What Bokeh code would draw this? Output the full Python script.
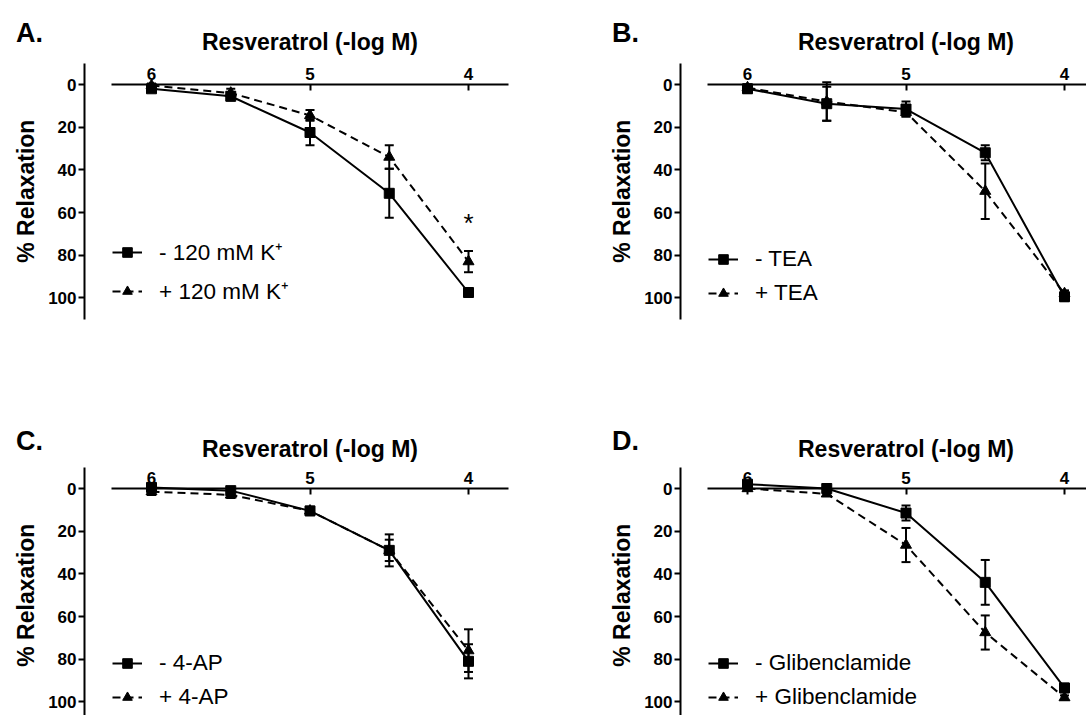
import math
from bokeh.plotting import figure
from bokeh.models import (Range1d, FixedTicker, Whisker, ColumnDataSource, Legend,
                          LegendItem, TeeHead, LinearAxis)
from bokeh.core.properties import value
from bokeh.layouts import column, row
from bokeh.embed import file_html
from bokeh.resources import INLINE

# ---------------- data ----------------
log_conc = [6, 5.5, 5, 4.5, 4]          # Resveratrol (-log M)
x_ticks = [6, 5, 4]
y_ticks = [0, 20, 40, 60, 80, 100]

a_labels = ["- 120 mM K\u207a", "+ 120 mM K\u207a"]
a_ctrl = [2, 5.5, 22.5, 51, 97.5]
a_ctrl_err = [1.5, 2, 6, 11.5, 2]
a_trt = [0.5, 4, 14.5, 34, 83]
a_trt_err = [1, 2, 2.5, 5.5, 5]

b_labels = ["- TEA", "+ TEA"]
b_ctrl = [2, 9, 11.5, 32, 99.5]
b_ctrl_err = [2, 8, 3.5, 3.5, 2]
b_trt = [1.5, 8, 13, 50, 98]
b_trt_err = [1, 9, 2, 13, 1.5]

c_labels = ["- 4-AP", "+ 4-AP"]
c_ctrl = [-0.5, 1, 10.5, 29, 81]
c_ctrl_err = [2, 1.5, 2, 7.5, 8]
c_trt = [1.5, 3, 10.5, 29, 76]
c_trt_err = [1.5, 1.5, 1.5, 5, 10]

d_labels = ["- Glibenclamide", "+ Glibenclamide"]
d_ctrl = [-2, 0, 11.5, 44, 93.5]
d_ctrl_err = [1, 1, 3.5, 10.5, 2]
d_trt = [0, 2.5, 26.5, 67.5, 98]
d_trt_err = [1, 1, 8, 8, 1]

panel_letters = ["A.", "B.", "C.", "D."]
x_title = "Resveratrol (-log M)"
y_title = "% Relaxation"
star_text = "*"

# ---------------- styling / geometry ----------------
FONT = "Liberation Sans"
PX_X = 158.5              # pixels per log unit
PX_Y = 256 / 120.0        # pixels per % unit
X_BOUNDS = (3.75, 6.25)
Y_BOUNDS = (-10, 110)
Y_AXIS_GAP = 67           # px between y axis line and x = 6


def px2x(six_px, px):
    """page pixel -> data x for a panel whose x=6 sits at page pixel six_px"""
    return 6 - (px - six_px) / PX_X


def make_panel(letter, labels, ctrl, ctrl_err, trt, trt_err, ox, oy, W, H,
               six_px, zero_py, letter_dy, xtitle_dy, star=None):
    x_start = 6 + (six_px - ox) / PX_X
    x_end = x_start - W / PX_X
    y_start = -(zero_py - oy) / PX_Y
    y_end = y_start + H / PX_Y
    p = figure(width=W, height=H, output_backend="svg", toolbar_location=None,
               x_range=Range1d(x_start, x_end), y_range=Range1d(y_end, y_start),
               x_axis_location=None, y_axis_location=None,
               min_border_left=0, min_border_top=0, min_border_right=0,
               min_border_bottom=0)
    p.outline_line_color = None
    p.xgrid.grid_line_color = None
    p.ygrid.grid_line_color = None
    p.background_fill_color = "white"
    p.border_fill_color = "white"

    y_axis_x = 6 + Y_AXIS_GAP / PX_X

    xa = LinearAxis(fixed_location=0, bounds=(max(X_BOUNDS[0], x_end), X_BOUNDS[1]),
                    ticker=FixedTicker(ticks=x_ticks))
    ya = LinearAxis(fixed_location=y_axis_x,
                    bounds=(Y_BOUNDS[0], min(Y_BOUNDS[1], y_end)),
                    ticker=FixedTicker(ticks=y_ticks))
    for ax in (xa, ya):
        ax.major_label_text_font = FONT
        ax.major_label_text_font_style = "bold"
        ax.major_label_text_font_size = "17px"
        ax.major_label_text_color = "black"
        ax.minor_tick_line_color = None
        ax.axis_line_color = "black"
        ax.major_tick_line_color = "black"
        ax.axis_line_width = 2
        ax.major_tick_line_width = 2
    xa.major_label_standoff = 5
    xa.major_tick_in = 6
    xa.major_tick_out = 0
    ya.major_label_standoff = 2
    ya.major_tick_in = 0
    ya.major_tick_out = 6
    p.add_layout(xa, "above")
    p.add_layout(ya, "left")

    items = []
    for vals, errs, marker, size, dash, lab in [
        (ctrl, ctrl_err, "square", 10, "solid", labels[0]),
        (trt, trt_err, "triangle", 11, "8 5", labels[1]),
    ]:
        src = ColumnDataSource(dict(
            x=log_conc, y=vals,
            lo=[v - e for v, e in zip(vals, errs)],
            hi=[v + e for v, e in zip(vals, errs)]))
        w = Whisker(source=src, base="x", lower="lo", upper="hi", dimension="height",
                    line_color="black", line_width=2,
                    lower_head=TeeHead(size=9, line_width=2, line_color="black"),
                    upper_head=TeeHead(size=9, line_width=2, line_color="black"))
        p.add_layout(w)
        lr = p.line("x", "y", source=src, line_color="black", line_width=2, line_dash=dash)
        sr = p.scatter("x", "y", source=src, marker=marker, size=size,
                       fill_color="black", line_color="black")
        items.append(LegendItem(label=lab, renderers=[lr, sr]))

    # legend: glyph starts 39 px left of x = 6, its bottom 222 px below y = 0
    leg_left = six_px - 39 - ox
    leg_bottom = zero_py + 222 - oy
    leg = Legend(items=items, location=(leg_left, H - leg_bottom),
                 orientation="vertical",
                 glyph_width=30, glyph_height=24, label_height=24, spacing=8,
                 label_standoff=17, padding=0, margin=0,
                 border_line_color=None, background_fill_alpha=0,
                 label_text_font=FONT, label_text_font_size="22.5px",
                 label_text_color="black")
    p.add_layout(leg)

    # panel letter
    p.text(x=[px2x(six_px, six_px - 122)], y=[letter_dy / PX_Y], text=[letter],
           text_font=value(FONT), text_font_style="bold", text_font_size="27px",
           text_align="center", text_baseline="middle", text_color="black")
    # x axis title (centred on x = 5)
    p.text(x=[sum(X_BOUNDS) / 2], y=[xtitle_dy / PX_Y], text=[x_title],
           text_font=value(FONT), text_font_style="bold", text_font_size="23px",
           text_align="center", text_baseline="middle", text_color="black")
    # y axis title
    p.text(x=[px2x(six_px, six_px - 126)], y=[sum(y_ticks[::5]) / 2], text=[y_title],
           angle=math.pi / 2,
           text_font=value(FONT), text_font_style="bold", text_font_size="23px",
           text_align="center", text_baseline="middle", text_color="black")
    if star is not None:
        p.text(x=[star[0]], y=[star[1]], text=[star_text],
               text_font=value(FONT), text_font_size="26px",
               text_align="center", text_baseline="middle", text_color="black")
    return p


pa = make_panel(panel_letters[0], a_labels, a_ctrl, a_ctrl_err, a_trt, a_trt_err,
                0, 0, 604, 404, 151, 84, -52, -43, star=(log_conc[4], 65))
pb = make_panel(panel_letters[1], b_labels, b_ctrl, b_ctrl_err, b_trt, b_trt_err,
                604, 0, 482, 404, 747, 84, -52, -43)
pc = make_panel(panel_letters[2], c_labels, c_ctrl, c_ctrl_err, c_trt, c_trt_err,
                0, 404, 604, 311, 151, 488, -48, -40)
pd = make_panel(panel_letters[3], d_labels, d_ctrl, d_ctrl_err, d_trt, d_trt_err,
                604, 404, 482, 311, 747, 488, -48, -40)

layout = column(row(pa, pb), row(pc, pd))
open("out.html", "w").write(file_html(layout, INLINE))
